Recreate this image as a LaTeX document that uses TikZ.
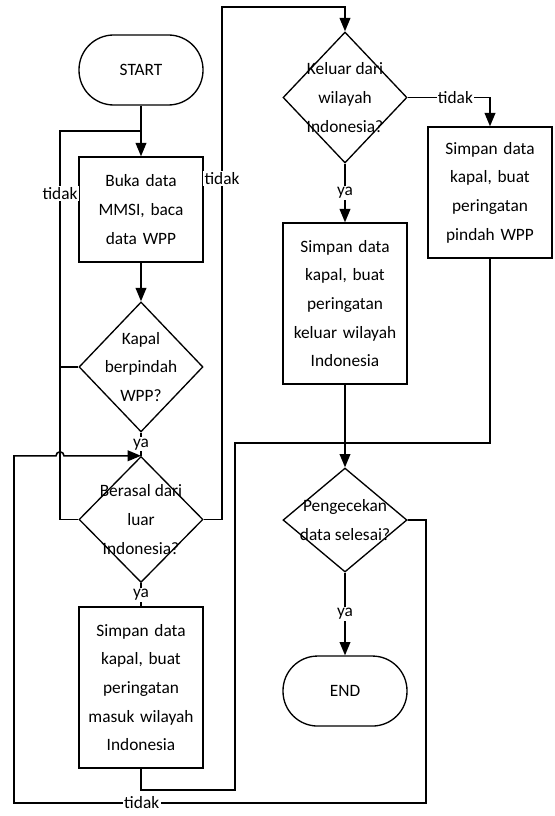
\documentclass[tikz,border=0pt]{standalone}
\usepackage{fontspec}
\setmainfont{Carlito}
\usetikzlibrary{shapes.geometric,arrows.meta}

\begin{document}
\begin{tikzpicture}[x=0.75pt, y=-0.75pt, font=\fontsize{13pt}{21.5pt}\selectfont]
    \tikzstyle{terminal} = [rectangle, rounded corners=26pt,
      minimum width=93pt, minimum height=52.5pt, draw=black, line width=1pt]
    \tikzstyle{process} = [rectangle, minimum width=93pt, text width=85pt,
      align=center, draw=black, line width=1pt]
    \tikzstyle{decision} = [diamond, minimum width=93pt, minimum height=97.5pt,
      inner sep=0pt, draw=black, line width=1pt]
    \tikzstyle{dtext} = [align=center, inner sep=0pt]
    \tikzstyle{edgelabel} = [fill=white, inner sep=1pt]
    \tikzstyle{line} = [line width=1.2pt]
    \tikzstyle{arrow} = [line width=1.2pt, -{Triangle[length=10pt, width=8pt]}]

    \useasboundingbox (0,0) rectangle (554,816);

    % left column
    \node (start) [terminal] at (141,70) {START};
    \node (buka) [process, minimum height=78.75pt, below of=start, node distance=104.6pt] {Buka data\\MMSI, baca\\data WPP};
    \node (kapal) [decision, below of=buka, node distance=118.1pt] {};
    \node (kapal-t) [dtext] at (kapal) {Kapal\\berpindah\\WPP?};
    \node (berasal) [decision, minimum height=94.5pt, below of=kapal, node distance=114.4pt] {};
    \node (berasal-t) [dtext] at (berasal) {Berasal dari\\luar\\Indonesia?};
    \node (masuk) [process, minimum height=120.75pt, below of=berasal, node distance=126pt] {Simpan data\\kapal, buat\\peringatan\\masuk wilayah\\Indonesia};

    % right column
    \node (keluar) [decision, minimum height=98.25pt] at (345,97.5) {};
    \node (keluar-t) [dtext] at (keluar) {Keluar dari\\wilayah\\Indonesia?};
    \node (keluarbox) [process, minimum height=120.75pt, below of=keluar, node distance=154.5pt] {Simpan data\\kapal, buat\\peringatan\\keluar wilayah\\Indonesia};
    \node (pindah) [process, minimum height=98.25pt] at (490,192.5) {Simpan data\\kapal, buat\\peringatan\\pindah WPP};
    \node (cek) [decision, minimum height=78pt, below of=keluarbox, node distance=162.4pt] {};
    \node (cek-t) [dtext] at (cek) {Pengecekan\\data selesai?};
    \node (end) [terminal, below of=cek, node distance=128.25pt] {END};

    \coordinate (loopA) at (60,131);
    \coordinate (loopB) at (222,7);
    \coordinate (turnM) at (235,790);
    \coordinate (mergeR) at (345,443);
    \coordinate (loopC1) at (426,803);
    \coordinate (loopC2) at (berasal.north -| 14,0);

    \draw [arrow] (start) -- (buka);
    \draw [arrow] (buka) -- (kapal);
    \draw [line] (kapal) -- node (ya1) [edgelabel] {ya} (berasal);
    \draw [line] (kapal.west) -- (kapal.west -| loopA);
    \draw [line] (berasal.west) -| node (tidak1) [edgelabel, pos=0.92] {tidak} (loopA) -- (loopA -| start);
    \draw [line] (berasal) -- node (ya2) [edgelabel] {ya} (masuk);
    \draw [arrow] (berasal.east) -| node (tidak2) [edgelabel, pos=0.833] {tidak} (loopB) -| (keluar.north);

    \draw [arrow] (keluar.east) -| node (tidak3) [edgelabel, pos=0.29] {tidak} (pindah.north);
    \draw [arrow] (keluar) -- node (ya3) [edgelabel] {ya} (keluarbox);
    \draw [arrow] (keluarbox) -- (cek);
    \draw [line] (pindah.south) |- (mergeR);
    \draw [line] (masuk.south) |- (turnM) |- (mergeR);
    \draw [arrow] (cek) -- node (ya4) [edgelabel] {ya} (end);

    \draw [arrow] (cek.east) -| (loopC1) -- node (tidak4) [edgelabel, pos=0.69] {tidak} (loopC1 -| loopC2)
      -- (loopC2) -- ([xshift=-3pt]loopC2 -| loopA) arc[start angle=180, end angle=0, radius=3pt] -- (berasal.north);
\end{tikzpicture}
\end{document}
